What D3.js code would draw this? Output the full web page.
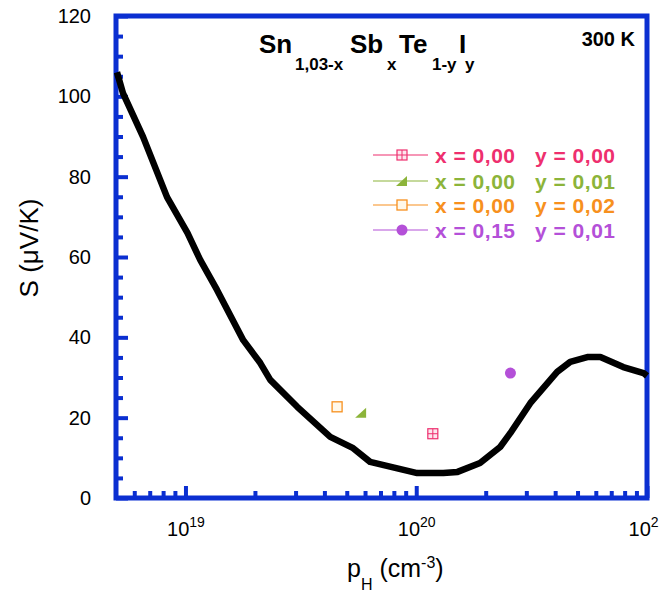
<!DOCTYPE html>
<html><head><meta charset="utf-8">
<script src="https://cdn.jsdelivr.net/npm/d3@7"></script>
<style>
body{margin:0;background:#fff;}
svg{display:block;font-family:Arial,"Liberation Sans",Helvetica,sans-serif;}
</style></head>
<body>
<svg id="chart" width="659" height="592"></svg>
<script>
// ---- data ----
const curveP = [5.05e18,5.36e18,6.55e18,8.32e18,1.02e19,1.16e19,1.37e19,1.78e19,2.11e19,2.33e19,3.05e19,4.24e19,5.33e19,6.31e19,1.01e20,1.31e20,1.51e20,1.89e20,2.31e20,2.56e20,3.12e20,4.08e20,4.65e20,5.51e20,6.28e20,7.89e20,9.66e20,1e21];
const curveS = [106,100.8,89.9,74.9,66.0,59.2,51.8,39.3,33.6,29.4,22.7,15.2,12.4,9.0,6.2,6.2,6.5,8.7,12.7,16.2,23.6,31.4,33.9,35.1,35.1,32.6,31.1,30.4];

const seriesX = ["x = 0,00","x = 0,00","x = 0,00","x = 0,15"];
const seriesY = ["y = 0,00","y = 0,01","y = 0,02","y = 0,01"];
const seriesP = [1.18e20, 5.77e19, 4.54e19, 2.56e20];
const seriesS = [16.0, 21.2, 22.7, 31.1];
const seriesColor = ["#ee2f6e","#8cb43a","#f7901e","#b450d8"];
const seriesShape = ["crossSquare","triangle","openSquare","circle"];

const yMajorTicks = [0,20,40,60,80,100,120];
const yMinorTicks = [5,10,15,25,30,35,45,50,55,65,70,75,85,90,95,105,110,115];
const xMajorTicks = [1e19,1e20,1e21];
const xMajorExp = ["19","20","21"];
const xMinorTicks = [6e18,7e18,8e18,9e18,2e19,3e19,4e19,5e19,6e19,7e19,8e19,9e19,2e20,3e20,4e20,5e20,6e20,7e20,8e20,9e20];

// ---- layout ----
const svg = d3.select("#chart");
const L = 116, R = 647, T = 16, B = 498;
const blue = "#0b2fd1";
const x = d3.scaleLog().domain([5e18,1e21]).range([L,R]);
const y = d3.scaleLinear().domain([0,120]).range([B,T]);

// y axis major
const yAx = svg.append("g").attr("transform",`translate(${L},0)`)
  .call(d3.axisLeft(y).tickValues(yMajorTicks).tickSize(-12).tickPadding(25).tickFormat(d3.format("d")));
yAx.select(".domain").remove();
yAx.selectAll("line").attr("stroke",blue).attr("stroke-width",4);
yAx.selectAll("text").attr("font-size",20).attr("fill","#000");
const yMin = svg.append("g").attr("transform",`translate(${L},0)`)
  .call(d3.axisLeft(y).tickValues(yMinorTicks).tickSize(-7).tickFormat(""));
yMin.select(".domain").remove();
yMin.selectAll("line").attr("stroke",blue).attr("stroke-width",4);

// x axis
const xAx = svg.append("g").attr("transform",`translate(0,${B})`)
  .call(d3.axisBottom(x).tickValues(xMajorTicks).tickSize(-12).tickPadding(24).tickFormat(() => ""));
xAx.select(".domain").remove();
xAx.selectAll("line").attr("stroke",blue).attr("stroke-width",4);
xAx.selectAll(".tick text").each(function(d,i){
  const t = d3.select(this).attr("font-size",20).attr("fill","#000").attr("text-anchor","middle");
  t.text(null);
  t.append("tspan").text("10");
  t.append("tspan").attr("font-size",14).attr("dy",-9).text(xMajorExp[i]);
});
const xMin = svg.append("g").attr("transform",`translate(0,${B})`)
  .call(d3.axisBottom(x).tickValues(xMinorTicks).tickSize(-7).tickFormat(""));
xMin.select(".domain").remove();
xMin.selectAll("line").attr("stroke",blue).attr("stroke-width",4);

// frame
svg.append("rect").attr("x",L).attr("y",T).attr("width",R-L).attr("height",B-T)
  .attr("fill","none").attr("stroke",blue).attr("stroke-width",5);

// curve
const pts = curveP.map((p,i)=>[p,curveS[i]]);
svg.append("path").datum(pts)
  .attr("d", d3.line().x(d=>x(d[0])).y(d=>y(d[1])))
  .attr("fill","none").attr("stroke","#000").attr("stroke-width",6.5)
  .attr("stroke-linejoin","round");

// markers
function drawMarker(g, shape, color, cx, cy){
  if(shape==="crossSquare"){
    g.append("rect").attr("x",cx-5).attr("y",cy-5).attr("width",10).attr("height",10)
      .attr("fill","#fde6ee").attr("stroke",color).attr("stroke-width",1.2);
    g.append("line").attr("x1",cx).attr("x2",cx).attr("y1",cy-5).attr("y2",cy+5).attr("stroke",color).attr("stroke-width",1);
    g.append("line").attr("x1",cx-5).attr("x2",cx+5).attr("y1",cy).attr("y2",cy).attr("stroke",color).attr("stroke-width",1);
  } else if(shape==="triangle"){
    g.append("path").attr("d",`M${cx-6},${cy+5}L${cx+5},${cy+5}L${cx+5},${cy-5}Z`).attr("fill",color);
  } else if(shape==="openSquare"){
    g.append("rect").attr("x",cx-5).attr("y",cy-5).attr("width",10).attr("height",10)
      .attr("fill","#fff8ea").attr("stroke",color).attr("stroke-width",1.3);
  } else {
    g.append("circle").attr("cx",cx).attr("cy",cy).attr("r",5.5).attr("fill",color);
  }
}
const pg = svg.append("g");
seriesP.forEach((p,i)=>drawMarker(pg, seriesShape[i], seriesColor[i], x(p), y(seriesS[i])));

// legend
const legY = [155,181,205,230];
const lg = svg.append("g");
seriesX.forEach((n,i)=>{
  lg.append("line").attr("x1",373).attr("x2",428).attr("y1",legY[i]).attr("y2",legY[i])
    .attr("stroke",seriesColor[i]).attr("stroke-width",1.2);
  drawMarker(lg, seriesShape[i], seriesColor[i], 402, legY[i]);
  lg.append("text").attr("x",435).attr("y",legY[i]+7.5).attr("font-size",21).attr("font-weight","bold")
    .attr("fill",seriesColor[i]).attr("letter-spacing",0.5).text(seriesX[i]);
  lg.append("text").attr("x",535).attr("y",legY[i]+7.5).attr("font-size",21).attr("font-weight","bold")
    .attr("fill",seriesColor[i]).attr("letter-spacing",0.5).text(seriesY[i]);
});

// title
const tg = svg.append("g").attr("font-weight","bold").attr("fill","#000");
const parts = [["Sn",259,false],["1,03-x",295,true],["Sb",350,false],["x",387,true],["Te",399,false],["1-y",432,true],["I",459,false],["y",465,true]];
parts.forEach(p=>{
  tg.append("text").attr("x",p[1]).attr("y",p[2]?70:53).attr("font-size",p[2]?17:26).text(p[0]);
});
svg.append("text").attr("x",635).attr("y",46).attr("text-anchor","end").attr("font-size",20)
  .attr("font-weight","bold").text("300 K");

// axis titles
const xl = svg.append("text").attr("x",347).attr("y",577).attr("font-size",25);
xl.append("tspan").text("p");
xl.append("tspan").attr("font-size",16).attr("dy",13).text("H");
xl.append("tspan").attr("dy",-13).text(" (cm");
xl.append("tspan").attr("font-size",16).attr("dy",-9).text("-3");
xl.append("tspan").attr("dy",9).text(")");

svg.append("text").attr("transform","translate(38,248) rotate(-90)").attr("text-anchor","middle")
  .attr("font-size",26).text("S (μV/K)");
</script>
</body></html>
